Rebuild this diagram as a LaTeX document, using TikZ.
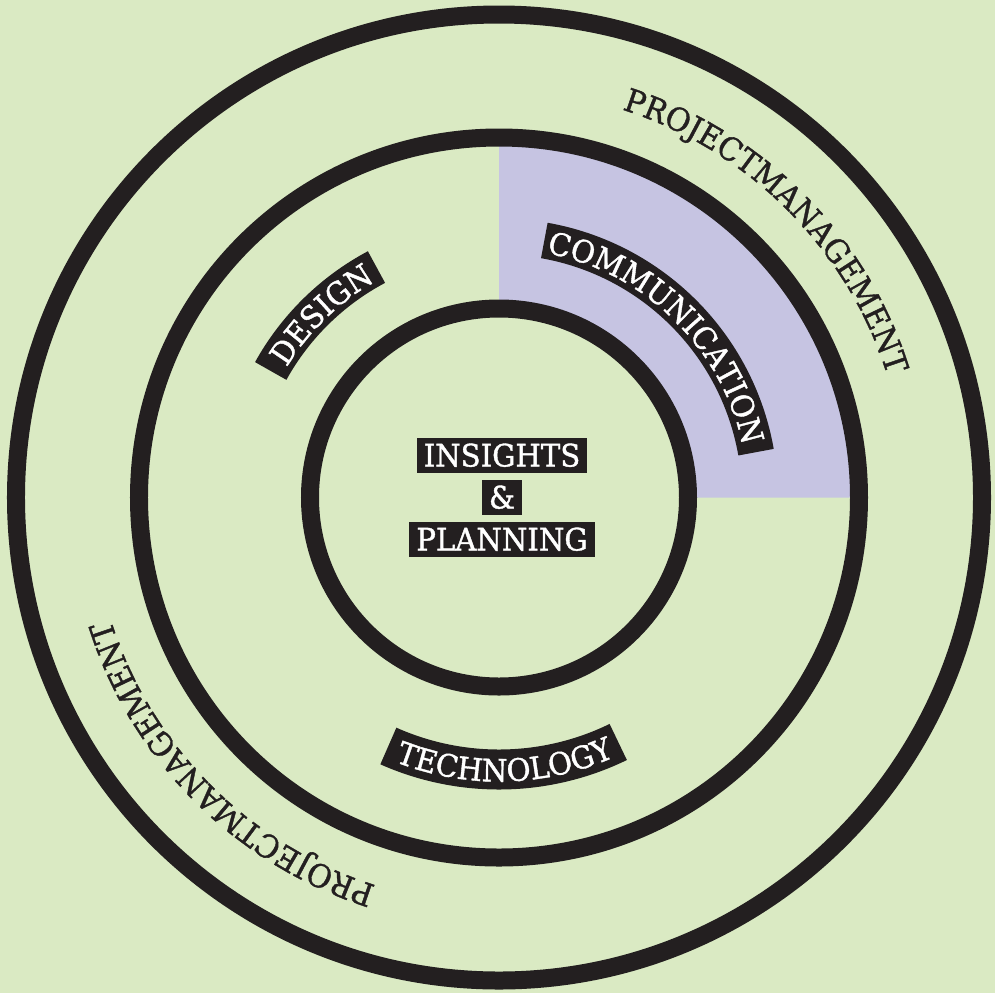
\documentclass[tikz,border=0pt]{standalone}
\usepackage{fontspec}
\setmainfont[FakeStretch=0.94,FakeBold=1.2]{DejaVu Serif}
\usepackage{xcolor}
\usetikzlibrary{decorations.text}
\definecolor{ringbg}{HTML}{DAEAC3}
\definecolor{ringlila}{HTML}{C6C4E2}
\definecolor{ringdark}{HTML}{231F20}
\newcommand\lblfont{\fontsize{15.5}{15.5}\selectfont}
\newcommand\pmfont{\fontsize{16}{16}\selectfont}

\begin{document}
\begin{tikzpicture}[
    x=0.5pt,y=0.5pt,
    ring/.style  = {draw=ringdark,line width=9pt},
    band/.style  = {draw=ringdark,line width=18pt},
    lbl/.style   = {fill=ringdark,text=white,font=\lblfont,inner xsep=3.5pt,
                    text height=11pt,text depth=0pt,inner ysep=3.3pt},
    onarc/.style = {decorate,decoration={text along path,text align=fit to path,
                    text color=#1}},
  ]

  \fill[ringbg] (-499,-495.5) rectangle (496,497.5);
  \useasboundingbox (-499,-495.5) rectangle (496,497.5);

  % communication quarter
  \fill[ringlila] (0,0) -- (0,360) arc[start angle=90,end angle=0,radius=360] -- cycle;
  \fill[ringbg] (0,0) circle[radius=189];

  \draw[ring] (0,0) circle[radius=483];
  \draw[ring] (0,0) circle[radius=360];
  \draw[ring] (0,0) circle[radius=189];

  % black bands under the ring labels
  \draw[band] (80:261) arc[start angle=80,end angle=10,radius=261];
  \draw[band] (151:261) arc[start angle=151,end angle=118,radius=261];
  \draw[band,line width=20pt] (246:272) arc[start angle=246,end angle=296,radius=272];

  \path[onarc=white,decoration={text={|\lblfont|COMMUNICATION}}]
    (79:249) arc[start angle=79,end angle=12,radius=249];
  \path[onarc=white,decoration={text={|\lblfont|DESIGN}}]
    (148.5:249) arc[start angle=148.5,end angle=120.5,radius=249];
  \path[onarc=white,decoration={text={|\lblfont|TECHNOLOGY}}]
    (248.5:284) arc[start angle=248.5,end angle=294,radius=284];

  \path[onarc=ringdark,decoration={text={|\pmfont|PROJECTMANAGEMENT}}]
    (72.4:407) arc[start angle=72.4,end angle=18.5,radius=407];
  \path[onarc=ringdark,decoration={text={|\pmfont|PROJECTMANAGEMENT}}]
    (252.4:407) arc[start angle=252.4,end angle=198.5,radius=407];

  % centre
  \node[lbl] (amp)  at (3,0)   {\&};
  \node[lbl] (ins)  at (3,42)  {INSIGHTS};
  \node[lbl] (plan) at (3,-42) {PLANNING};

\end{tikzpicture}
\end{document}
